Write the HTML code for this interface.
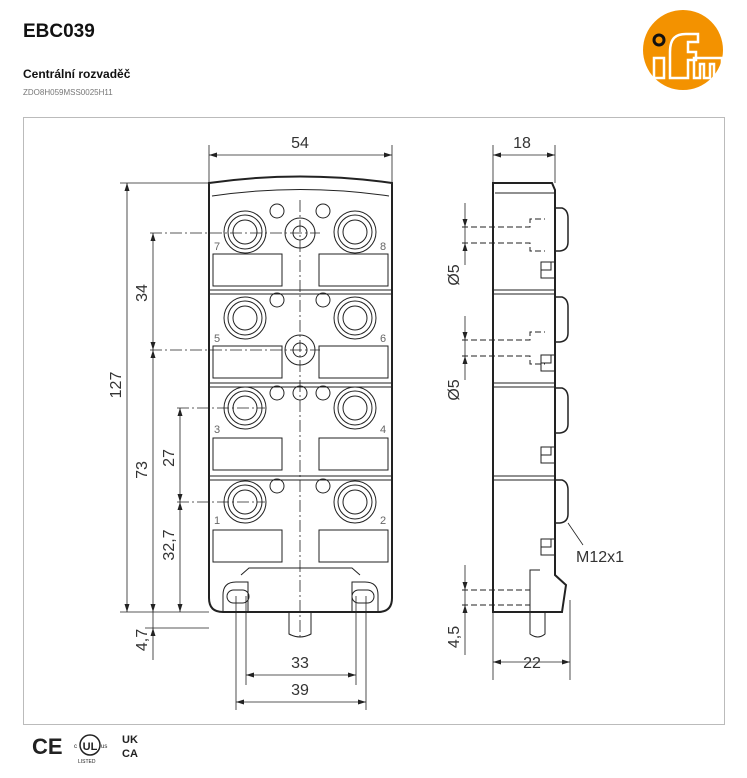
<!DOCTYPE html>
<html><head><meta charset="utf-8"><style>
body{margin:0;background:#fff;width:747px;height:773px;overflow:hidden;font-family:"Liberation Sans",sans-serif}
</style></head><body>
<svg width="747" height="773" viewBox="0 0 747 773" xmlns="http://www.w3.org/2000/svg" font-family="Liberation Sans, sans-serif">
<text x="23" y="37" font-size="19" font-weight="bold" fill="#111">EBC039</text>
<text x="23" y="78" font-size="12" font-weight="bold" fill="#111">Centrální rozvaděč</text>
<text x="23" y="95" font-size="8" fill="#777">ZDO8H059MSS0025H11</text>
<circle cx="683" cy="50" r="40" fill="#f39200"/>
<g fill="none" stroke="#fff" stroke-width="2.5"><path d="M654 78V58h10v20zM670 78V52c0-14 6-18 16-18h12v8h-10v10h8v8h-8v18zM694 78V58h28v20h-8V64h-4v14h-6V64h-4v14z"/></g>
<circle cx="659" cy="40" r="5" fill="none" stroke="#111" stroke-width="3"/>
<rect x="23.5" y="117.5" width="701" height="607" fill="none" stroke="#bbb"/>
<g stroke="#222" fill="none" stroke-width="1">
<!-- front body -->
<path d="M209 183Q300 170 392 183V598Q392 612 378 612H223Q209 612 209 598Z" stroke-width="2"/>
<path d="M212 196Q300 183 389 196"/>
<line x1="209" y1="290" x2="392" y2="290"/><line x1="209" y1="294" x2="392" y2="294"/>
<line x1="209" y1="383" x2="392" y2="383"/><line x1="209" y1="387" x2="392" y2="387"/>
<line x1="209" y1="476" x2="392" y2="476"/><line x1="209" y1="480" x2="392" y2="480"/>
<g>
<rect x="213" y="254" width="69" height="32"/><rect x="319" y="254" width="69" height="32"/>
<rect x="213" y="346" width="69" height="32"/><rect x="319" y="346" width="69" height="32"/>
<rect x="213" y="438" width="69" height="32"/><rect x="319" y="438" width="69" height="32"/>
<rect x="213" y="530" width="69" height="32"/><rect x="319" y="530" width="69" height="32"/>
</g>
<g>
<circle cx="245" cy="232" r="21"/><circle cx="245" cy="232" r="17"/><circle cx="245" cy="232" r="12"/>
<circle cx="355" cy="232" r="21"/><circle cx="355" cy="232" r="17"/><circle cx="355" cy="232" r="12"/>
<circle cx="245" cy="318" r="21"/><circle cx="245" cy="318" r="17"/><circle cx="245" cy="318" r="12"/>
<circle cx="355" cy="318" r="21"/><circle cx="355" cy="318" r="17"/><circle cx="355" cy="318" r="12"/>
<circle cx="245" cy="408" r="21"/><circle cx="245" cy="408" r="17"/><circle cx="245" cy="408" r="12"/>
<circle cx="355" cy="408" r="21"/><circle cx="355" cy="408" r="17"/><circle cx="355" cy="408" r="12"/>
<circle cx="245" cy="502" r="21"/><circle cx="245" cy="502" r="17"/><circle cx="245" cy="502" r="12"/>
<circle cx="355" cy="502" r="21"/><circle cx="355" cy="502" r="17"/><circle cx="355" cy="502" r="12"/>
<circle cx="300" cy="233" r="15"/><circle cx="300" cy="233" r="7"/>
<circle cx="300" cy="350" r="15"/><circle cx="300" cy="350" r="7"/>
<circle cx="277" cy="211" r="7"/><circle cx="323" cy="211" r="7"/>
<circle cx="277" cy="300" r="7"/><circle cx="323" cy="300" r="7"/>
<circle cx="277" cy="393" r="7"/><circle cx="300" cy="393" r="7"/><circle cx="323" cy="393" r="7"/>
<circle cx="277" cy="486" r="7"/><circle cx="323" cy="486" r="7"/>
</g>
<path d="M241 575L249 568H352L360 575M223 612V595Q223 582 236 582H248V612M378 612V595Q378 582 365 582H352V612"/>
<rect x="227" y="590" width="22" height="13" rx="6.5"/><rect x="352" y="590" width="22" height="13" rx="6.5"/>
<path d="M289 612V634Q300 640 311 634V612"/>
<g stroke-dasharray="12,3,2,3" stroke-width="0.8">
<line x1="300" y1="200" x2="300" y2="640"/>
<line x1="150" y1="233" x2="320" y2="233"/><line x1="150" y1="350" x2="320" y2="350"/>
<line x1="177" y1="408" x2="265" y2="408"/><line x1="177" y1="502" x2="265" y2="502"/>
</g>
<!-- dims -->
<g stroke-width="0.8">
<line x1="209" y1="145" x2="209" y2="183"/><line x1="392" y1="145" x2="392" y2="183"/>
<line x1="209" y1="155" x2="392" y2="155"/>
<line x1="120" y1="183" x2="209" y2="183"/><line x1="120" y1="612" x2="209" y2="612"/>
<line x1="127" y1="183" x2="127" y2="612"/>
<line x1="153" y1="233" x2="153" y2="612"/>
<line x1="153" y1="612" x2="153" y2="660"/><line x1="145" y1="628" x2="209" y2="628"/>
<line x1="180" y1="408" x2="180" y2="612"/>
<line x1="236" y1="596" x2="236" y2="710"/><line x1="246" y1="596" x2="246" y2="685"/>
<line x1="356" y1="596" x2="356" y2="685"/><line x1="366" y1="596" x2="366" y2="710"/>
<line x1="246" y1="675" x2="356" y2="675"/><line x1="236" y1="702" x2="366" y2="702"/>
</g>
<!-- side view -->
<path d="M493 183H552L555 190V575L566 585L562 612H493Z" stroke-width="2"/>
<line x1="495" y1="193" x2="555" y2="193"/>
<line x1="493" y1="290" x2="555" y2="290"/><line x1="493" y1="294" x2="555" y2="294"/>
<line x1="493" y1="383" x2="555" y2="383"/><line x1="493" y1="387" x2="555" y2="387"/>
<line x1="493" y1="476" x2="555" y2="476"/><line x1="493" y1="480" x2="555" y2="480"/>
<path d="M555 208H562Q568 210 568 218V242Q568 250 560 251H555M555 297H562Q568 299 568 307V333Q568 341 560 342H555M555 388H562Q568 390 568 398V424Q568 432 560 433H555M555 480H562Q568 482 568 490V514Q568 522 560 523H555" stroke-width="1.5"/>
<path d="M555 262H541V270H551V262M541 270V278H555M555 355H541V363H551V355M541 363V371H555M555 447H541V455H551V447M541 455V463H555M555 539H541V547H551V539M541 547V555H555"/>
<path d="M530 612V634Q538 640 545 634V612M540 570H530V612"/>
<g stroke-dasharray="6,3">
<path d="M462 227H530V219H545M462 243H530V251H545M462 340H530V332H545M462 356H530V364H545M462 590H530M462 605H530"/>
</g>
<g stroke-width="0.8">
<line x1="493" y1="145" x2="493" y2="680"/><line x1="555" y1="145" x2="555" y2="183"/>
<line x1="493" y1="155" x2="555" y2="155"/>
<line x1="570" y1="600" x2="570" y2="680"/><line x1="493" y1="662" x2="570" y2="662"/>
<line x1="465" y1="203" x2="465" y2="265"/><line x1="465" y1="316" x2="465" y2="380"/>
<line x1="465" y1="565" x2="465" y2="655"/>
<line x1="568" y1="523" x2="583" y2="545"/>
</g>
</g>
<g fill="#222">
<path d="M209 155l8-2.5v5zM392 155l-8-2.5v5zM493 155l8-2.5v5zM555 155l-8-2.5v5zM493 662l8-2.5v5zM570 662l-8-2.5v5zM246 675l8-2.5v5zM356 675l-8-2.5v5zM236 702l8-2.5v5zM366 702l-8-2.5v5z"/>
<path d="M127 183l-2.5 8h5zM127 612l-2.5-8h5zM153 233l-2.5 8h5zM153 350l-2.5-8h5zM153 350l-2.5 8h5zM153 612l-2.5-8h5zM153 628l-2.5 8h5zM180 408l-2.5 8h5zM180 502l-2.5-8h5zM180 502l-2.5 8h5zM180 612l-2.5-8h5z"/>
<path d="M465 227l-2.5-8h5zM465 243l-2.5 8h5zM465 340l-2.5-8h5zM465 356l-2.5 8h5zM465 590l-2.5-8h5zM465 605l-2.5 8h5z"/>
</g>
<g font-size="16" fill="#333" text-anchor="middle">
<text x="300" y="148">54</text><text x="522" y="148">18</text>
<text x="300" y="668">33</text><text x="300" y="695">39</text><text x="532" y="668">22</text>
<text x="600" y="562">M12x1</text>
<text transform="translate(121,385) rotate(-90)">127</text>
<text transform="translate(147,293) rotate(-90)">34</text>
<text transform="translate(147,470) rotate(-90)">73</text>
<text transform="translate(174,458) rotate(-90)">27</text>
<text transform="translate(174,545) rotate(-90)">32,7</text>
<text transform="translate(147,640) rotate(-90)">4,7</text>
<text transform="translate(459,275) rotate(-90)">Ø5</text>
<text transform="translate(459,390) rotate(-90)">Ø5</text>
<text transform="translate(459,637) rotate(-90)">4,5</text>
</g>
<g font-size="11" fill="#666">
<text x="214" y="250">7</text><text x="380" y="250">8</text>
<text x="214" y="342">5</text><text x="380" y="342">6</text>
<text x="214" y="433">3</text><text x="380" y="433">4</text>
<text x="214" y="524">1</text><text x="380" y="524">2</text>
</g>
<text x="32" y="754" font-size="22" font-weight="bold" fill="#222">CE</text>
<circle cx="90" cy="745" r="10" fill="none" stroke="#222" stroke-width="1.5"/>
<text x="90" y="750" font-size="11" font-weight="bold" text-anchor="middle" fill="#222">UL</text>
<text x="74" y="748" font-size="6" fill="#222">c</text><text x="101" y="748" font-size="6" fill="#222">us</text>
<text x="78" y="763" font-size="5" fill="#222">LISTED</text>
<text x="122" y="743" font-size="11" font-weight="bold" fill="#222">UK</text>
<text x="122" y="757" font-size="11" font-weight="bold" fill="#222">CA</text>
</svg>
</body></html>
